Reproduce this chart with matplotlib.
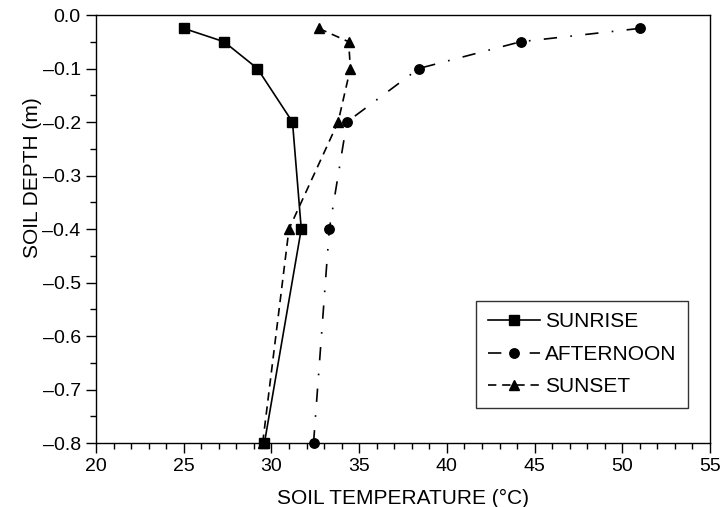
import matplotlib
matplotlib.use("Agg")
from matplotlib import pyplot as plt
from matplotlib.ticker import MultipleLocator, FuncFormatter

plt.rcParams['font.family'] = ['Liberation Sans', 'DejaVu Sans']

# Soil depth (m) and temperatures (°C) for each time of day
depth = [-0.025, -0.05, -0.1, -0.2, -0.4, -0.8]
sunrise = [25.0, 27.3, 29.2, 31.2, 31.7, 29.6]
afternoon = [51.0, 44.2, 38.4, 34.3, 33.3, 32.4]
sunset = [32.7, 34.4, 34.5, 33.8, 31.0, 29.5]

fig = plt.figure(figsize=(7.24, 5.07), dpi=100)
ax = fig.add_axes([0.1326, 0.1262, 0.8481, 0.8442])

ax.plot(sunrise, depth, color='black', lw=1.2, linestyle='-',
        marker='s', markersize=6.8, label='SUNRISE', clip_on=False)
ax.plot(afternoon, depth, color='black', lw=1.2, linestyle=(0, (8, 8, 1, 8)),
        marker='o', markersize=6.8, label='AFTERNOON', clip_on=False)
ax.plot(sunset, depth, color='black', lw=1.2, linestyle=(0, (5, 3.5)),
        marker='^', markersize=6.8, label='SUNSET', clip_on=False)

ax.set_xlim(20, 55)
ax.set_ylim(-0.8, 0.0)
ax.xaxis.set_major_locator(MultipleLocator(5))
ax.xaxis.set_minor_locator(MultipleLocator(1))
ax.yaxis.set_major_locator(MultipleLocator(0.1))
ax.yaxis.set_minor_locator(MultipleLocator(0.05))
ax.yaxis.set_major_formatter(
    FuncFormatter(lambda v, pos: ('%.1f' % v).replace('-', '\u2013') if abs(v) > 1e-9 else '0.0'))

ax.tick_params(which='both', direction='out', top=False, right=False,
               labelsize=14, width=1)
ax.tick_params(which='major', length=7, pad=4)
ax.tick_params(which='minor', length=4)
for s in ax.spines.values():
    s.set_linewidth(1.0)

ax.set_xlabel('SOIL TEMPERATURE (°C)', fontsize=15)
ax.set_ylabel('SOIL DEPTH (m)', fontsize=15)
ax.xaxis.set_label_coords(0.5, -0.107)
ax.yaxis.set_label_coords(-0.088, 0.62)

leg = ax.legend(loc='lower right', bbox_to_anchor=(0.964, 0.082),
                fontsize=15, frameon=True, fancybox=False, edgecolor='black',
                handlelength=2.5, borderpad=0.55, labelspacing=0.65,
                handletextpad=0.25, borderaxespad=0)
leg.get_frame().set_linewidth(1.0)

fig.savefig('out.png', dpi=100)
